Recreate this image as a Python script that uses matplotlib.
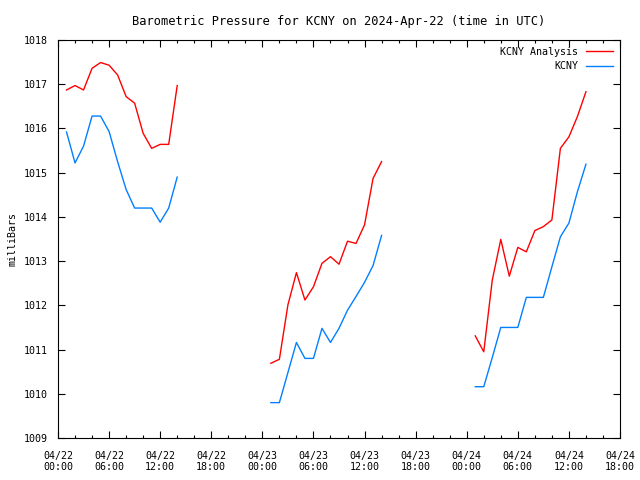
import numpy as np
import matplotlib
matplotlib.use("Agg")
import matplotlib.pyplot as plt
import matplotlib.dates as mdates
from datetime import datetime, timedelta

# hourly samples, offsets in hours from 2024-04-22 00:00 UTC
start = datetime(2024, 4, 22, 0, 0)
hours_1 = list(range(1, 15))
hours_2 = list(range(25, 39))
hours_3 = list(range(49, 63))

# KCNY Analysis (red)
analysis_1 = [1016.87, 1016.97, 1016.87, 1017.36, 1017.49, 1017.43, 1017.21,
              1016.72, 1016.57, 1015.89, 1015.55, 1015.64, 1015.64, 1016.97]
analysis_2 = [1010.69, 1010.78, 1012.01, 1012.74, 1012.12, 1012.42, 1012.95,
              1013.10, 1012.93, 1013.45, 1013.40, 1013.82, 1014.87, 1015.25]
analysis_3 = [1011.31, 1010.95, 1012.57, 1013.49, 1012.66, 1013.31, 1013.21,
              1013.69, 1013.78, 1013.93, 1015.55, 1015.81, 1016.27, 1016.83]

# KCNY observations (blue)
obs_1 = [1015.92, 1015.22, 1015.60, 1016.28, 1016.28, 1015.93, 1015.25,
         1014.62, 1014.20, 1014.20, 1014.20, 1013.88, 1014.20, 1014.90]
obs_2 = [1009.80, 1009.80, 1010.48, 1011.16, 1010.80, 1010.80, 1011.48,
         1011.16, 1011.48, 1011.89, 1012.20, 1012.52, 1012.90, 1013.58]
obs_3 = [1010.16, 1010.16, 1010.82, 1011.50, 1011.50, 1011.50, 1012.18,
         1012.18, 1012.18, 1012.87, 1013.55, 1013.86, 1014.57, 1015.19]

segments = [(hours_1, analysis_1, obs_1),
            (hours_2, analysis_2, obs_2),
            (hours_3, analysis_3, obs_3)]

plt.rcParams['font.family'] = ['DejaVu Sans Mono']
plt.rcParams['font.size'] = 7.2

fig = plt.figure(figsize=(6.4, 4.8), dpi=100)
ax = fig.add_axes([58/640, 42/480, 562/640, 398/480])

for i, (hrs, ana, obs) in enumerate(segments):
    t = [start + timedelta(hours=h) for h in hrs]
    ax.plot(t, ana, color='#ff0000', lw=1,
            label='KCNY Analysis' if i == 0 else None)
    ax.plot(t, obs, color='#0080ff', lw=1,
            label='KCNY' if i == 0 else None)

ax.set_xlim(start, start + timedelta(hours=66))
ax.set_ylim(1009, 1018)
ax.set_yticks(np.arange(1009, 1019, 1))
ax.yaxis.set_major_formatter(matplotlib.ticker.FormatStrFormatter('%d'))
ax.xaxis.set_major_locator(mdates.HourLocator(byhour=[0, 6, 12, 18]))
ax.xaxis.set_minor_locator(mdates.HourLocator(interval=2))
ax.xaxis.set_major_formatter(mdates.DateFormatter('%m/%d\n%H:%M'))
ax.tick_params(which='both', direction='in', top=True, right=True)
ax.tick_params(which='major', length=5, width=0.8)
ax.tick_params(axis='x', which='major', pad=9)
ax.tick_params(axis='y', which='major', pad=7)
ax.tick_params(which='minor', length=2.5, width=0.8)
for s in ax.spines.values():
    s.set_linewidth(0.8)

ax.set_ylabel('milliBars', labelpad=5)
ax.set_title('Barometric Pressure for KCNY on 2024-Apr-22 (time in UTC)', pad=11)
ax.legend(loc='upper right', frameon=False, markerfirst=False,
          handlelength=2.7, handletextpad=0.8, borderaxespad=0.4,
          labelspacing=0.45, borderpad=0.3)

fig.savefig('out.png', dpi=100)
